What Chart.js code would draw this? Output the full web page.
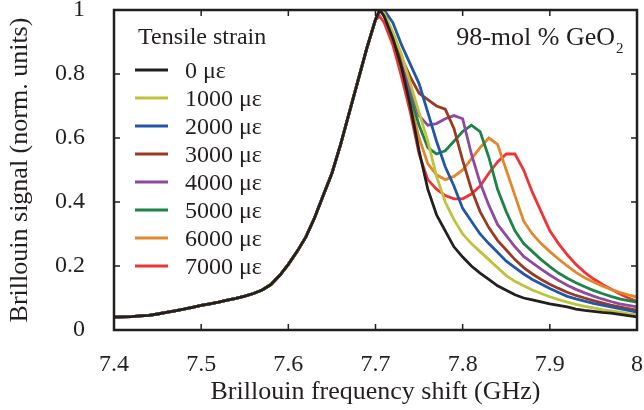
<!DOCTYPE html>
<html>
<head>
<meta charset="utf-8">
<script src="https://cdn.jsdelivr.net/npm/chart.js@4.4.1/dist/chart.umd.min.js"></script>
<style>
  html, body { margin: 0; padding: 0; background: #fff; }
  #grafica { display: block; }
</style>
</head>
<body>
<canvas id="grafica" width="644" height="410"></canvas>
<script>
// Brillouin spectra under tensile strain (98-mol % GeO2 fiber)

// rising edge: all strains overlap here
const riseX = [7.40, 7.41, 7.42, 7.43, 7.44, 7.45, 7.46, 7.47, 7.48, 7.49,
               7.50, 7.51, 7.52, 7.53, 7.54, 7.55, 7.56, 7.57, 7.58, 7.59,
               7.60, 7.61, 7.62, 7.63, 7.64, 7.65, 7.66, 7.67, 7.68, 7.69, 7.70];
const riseY = [0.040, 0.041, 0.042, 0.044, 0.046, 0.050, 0.055, 0.060, 0.065, 0.071,
               0.077, 0.082, 0.087, 0.093, 0.099, 0.106, 0.114, 0.125, 0.142, 0.170,
               0.205, 0.245, 0.290, 0.350, 0.420, 0.490, 0.580, 0.680, 0.780, 0.880, 0.970];

// falling side, one list per strain
const tailX = [7.705, 7.71, 7.72, 7.73, 7.74, 7.75, 7.76, 7.77, 7.78, 7.79,
               7.80, 7.81, 7.82, 7.83, 7.84, 7.85, 7.86, 7.87, 7.88, 7.89,
               7.90, 7.91, 7.92, 7.93, 7.94, 7.95, 7.96, 7.97, 7.98, 7.99, 8.00];

const tail0 = [1.00, 0.98, 0.91, 0.82, 0.70, 0.56, 0.44, 0.36, 0.31, 0.26,
               0.228, 0.20, 0.178, 0.158, 0.138, 0.124, 0.11, 0.10, 0.094, 0.088,
               0.082, 0.077, 0.072, 0.065, 0.061, 0.058, 0.055, 0.053, 0.049, 0.045, 0.041];
const tail1000 = [1.00, 0.99, 0.93, 0.86, 0.77, 0.68, 0.59, 0.48, 0.40, 0.345,
                  0.30, 0.27, 0.245, 0.22, 0.195, 0.17, 0.152, 0.138, 0.125, 0.114,
                  0.104, 0.095, 0.087, 0.080, 0.074, 0.069, 0.064, 0.060, 0.056, 0.051, 0.047];
const tail2000 = [1.00, 1.00, 0.96, 0.89, 0.83, 0.77, 0.68, 0.59, 0.51, 0.45,
                  0.38, 0.34, 0.30, 0.27, 0.243, 0.215, 0.195, 0.175, 0.158, 0.144,
                  0.13, 0.117, 0.105, 0.097, 0.090, 0.083, 0.078, 0.072, 0.067, 0.061, 0.056];
const tail3000 = [1.00, 0.99, 0.92, 0.85, 0.79, 0.74, 0.72, 0.70, 0.69, 0.63,
                  0.53, 0.44, 0.37, 0.32, 0.28, 0.25, 0.22, 0.195, 0.175, 0.158,
                  0.143, 0.13, 0.118, 0.108, 0.10, 0.092, 0.085, 0.078, 0.072, 0.067, 0.062];
const tail4000 = [1.00, 0.99, 0.92, 0.83, 0.75, 0.67, 0.64, 0.645, 0.66, 0.67,
                  0.66, 0.55, 0.46, 0.39, 0.33, 0.295, 0.26, 0.23, 0.21, 0.19,
                  0.172, 0.155, 0.14, 0.127, 0.116, 0.106, 0.097, 0.089, 0.082, 0.077, 0.072];
const tail5000 = [1.00, 0.99, 0.92, 0.82, 0.73, 0.64, 0.57, 0.55, 0.56, 0.59,
                  0.62, 0.64, 0.62, 0.54, 0.44, 0.37, 0.31, 0.27, 0.245, 0.22,
                  0.198, 0.178, 0.162, 0.148, 0.135, 0.124, 0.114, 0.105, 0.097, 0.092, 0.087];
const tail6000 = [1.00, 0.98, 0.91, 0.82, 0.71, 0.60, 0.52, 0.485, 0.47, 0.48,
                  0.50, 0.535, 0.57, 0.60, 0.58, 0.50, 0.42, 0.34, 0.30, 0.27,
                  0.245, 0.222, 0.20, 0.18, 0.163, 0.15, 0.138, 0.127, 0.118, 0.11, 0.103];
const tail7000 = [0.98, 0.96, 0.89, 0.79, 0.68, 0.55, 0.47, 0.44, 0.42, 0.41,
                  0.41, 0.425, 0.45, 0.49, 0.525, 0.55, 0.55, 0.50, 0.43, 0.37,
                  0.31, 0.27, 0.235, 0.205, 0.18, 0.16, 0.143, 0.128, 0.113, 0.10, 0.09];

const etiquetas = ['0 με', '1000 με', '2000 με', '3000 με', '4000 με', '5000 με', '6000 με', '7000 με'];
const colores = ['#231f20', '#bdc33a', '#2257a8', '#9b3a23', '#8e4a9e', '#1c8447', '#e3872d', '#ee3536'];
const colas = [tail0, tail1000, tail2000, tail3000, tail4000, tail5000, tail6000, tail7000];

const xTicks = [7.4, 7.5, 7.6, 7.7, 7.8, 7.9, 8.0];
const yTicks = [0, 0.2, 0.4, 0.6, 0.8, 1];

const FUENTE = '"Liberation Serif", "Times New Roman", serif';
const TINTA = '#231f20';

function serie(cola) {
    const puntos = riseX.map((x, i) => ({ x: x, y: riseY[i] }));
    return puntos.concat(tailX.map((x, i) => ({ x: x, y: cola[i] })));
}

// tamaño fijo de los ejes, sin relleno automático por las etiquetas
function fijar(s, tam) {
    if (s.isHorizontal()) s.height = tam; else s.width = tam;
    s.paddingTop = 0;
    s.paddingBottom = 0;
    s.paddingLeft = 0;
    s.paddingRight = 0;
}

// marco, marcas interiores, leyenda y rótulo
const decoracion = {
    id: 'decoracion',
    afterDraw(chart) {
        const ctx = chart.ctx;
        const a = chart.chartArea;
        const sx = chart.scales.x;
        const sy = chart.scales.y;
        ctx.save();
        ctx.strokeStyle = TINTA;

        // marcas hacia dentro en los cuatro lados
        ctx.lineWidth = 1.5;
        ctx.beginPath();
        xTicks.forEach(v => {
            const px = sx.getPixelForValue(v);
            ctx.moveTo(px, a.bottom); ctx.lineTo(px, a.bottom - 6);
            ctx.moveTo(px, a.top); ctx.lineTo(px, a.top + 6);
        });
        yTicks.forEach(v => {
            const py = sy.getPixelForValue(v);
            ctx.moveTo(a.left, py); ctx.lineTo(a.left + 6, py);
            ctx.moveTo(a.right, py); ctx.lineTo(a.right - 6, py);
        });
        ctx.stroke();

        ctx.lineWidth = 2.5;
        ctx.strokeRect(a.left, a.top, a.right - a.left, a.bottom - a.top);

        // leyenda
        ctx.fillStyle = TINTA;
        ctx.textBaseline = 'alphabetic';
        ctx.textAlign = 'left';
        ctx.font = '24px ' + FUENTE;
        ctx.fillText('Tensile strain', 138, 44);
        chart.data.datasets.forEach((ds, i) => {
            const y = 70 + i * 28;
            ctx.strokeStyle = ds.borderColor;
            ctx.lineWidth = 3;
            ctx.beginPath();
            ctx.moveTo(135, y);
            ctx.lineTo(168, y);
            ctx.stroke();
            ctx.fillStyle = TINTA;
            ctx.fillText(ds.label, 185, y + 8);
        });

        // composición
        ctx.font = '26px ' + FUENTE;
        ctx.textAlign = 'right';
        ctx.fillText('98-mol % GeO', 615, 45);
        ctx.font = '15px ' + FUENTE;
        ctx.textAlign = 'left';
        ctx.fillText('2', 616, 53);
        ctx.restore();
    }
};

new Chart(document.getElementById('grafica'), {
    type: 'line',
    data: {
        datasets: colas.map((cola, i) => ({
            label: etiquetas[i],
            data: serie(cola),
            borderColor: colores[i],
            borderWidth: 2.8,
            pointRadius: 0,
            tension: 0,
            fill: false
        }))
    },
    options: {
        responsive: false,
        animation: false,
        devicePixelRatio: 1,
        layout: { autoPadding: false, padding: { top: 10, right: 7, left: 0, bottom: 0 } },
        plugins: {
            legend: { display: false },
            tooltip: { enabled: false }
        },
        scales: {
            x: {
                type: 'linear',
                min: 7.4,
                max: 8.0,
                afterBuildTicks: s => { s.ticks = xTicks.map(v => ({ value: v })); },
                afterFit: s => fijar(s, 80),
                grid: { display: false, drawTicks: false },
                border: { display: false },
                ticks: {
                    padding: 20,
                    color: TINTA,
                    font: { family: FUENTE, size: 24 },
                    callback: v => String(Math.round(v * 10) / 10)
                },
                title: {
                    display: true,
                    text: 'Brillouin frequency shift (GHz)',
                    color: TINTA,
                    font: { family: FUENTE, size: 26 },
                    padding: { top: 0, bottom: 2 }
                }
            },
            y: {
                min: 0,
                max: 1,
                afterBuildTicks: s => { s.ticks = yTicks.map(v => ({ value: v })); },
                afterFit: s => fijar(s, 114),
                grid: { display: false, drawTicks: false },
                border: { display: false },
                ticks: {
                    padding: 29,
                    color: TINTA,
                    font: { family: FUENTE, size: 24 },
                    callback: v => String(Math.round(v * 10) / 10)
                },
                title: {
                    display: true,
                    text: 'Brillouin signal (norm. units)',
                    color: TINTA,
                    font: { family: FUENTE, size: 26 },
                    padding: { top: 5, bottom: 0 }
                }
            }
        }
    },
    plugins: [decoracion]
});
</script>
</body>
</html>
